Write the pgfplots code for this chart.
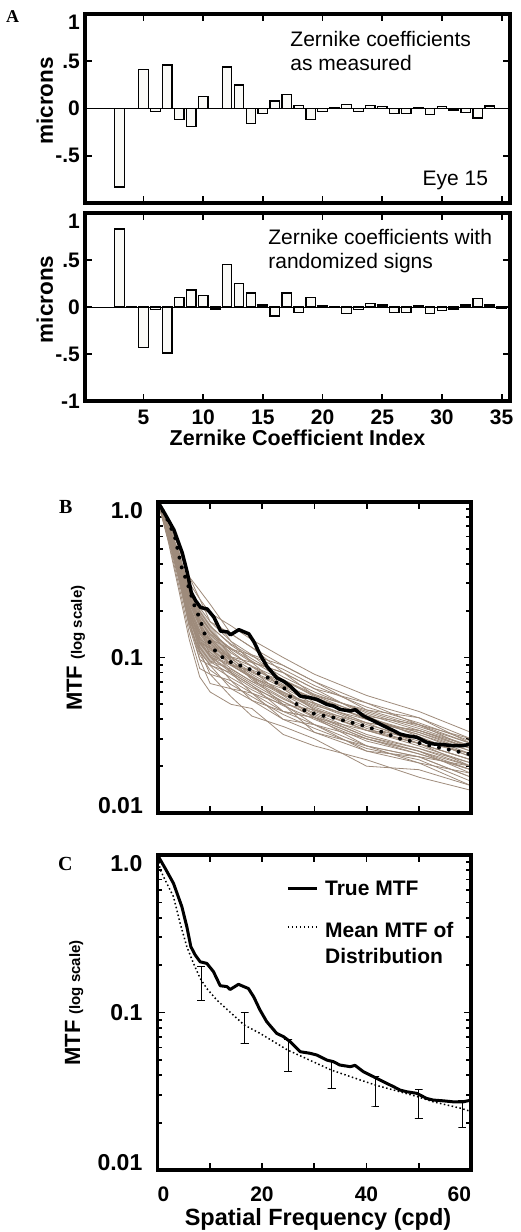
\documentclass[border=0pt]{standalone}
\usepackage{fontspec}
\setmainfont{Liberation Sans}
\newfontfamily\tnr{Liberation Serif}
\usepackage{pgfplots}
\pgfplotsset{compat=1.18}
\definecolor{brn}{RGB}{158,139,123}
\definecolor{barfill}{RGB}{250,250,247}
\newcommand{\fs}[1]{\fontsize{#1}{#1}\selectfont}
\pgfplotsset{
  myframe/.style={
    scale only axis,
    clip=false,
    axis line style={line width=3.6pt, line cap=rect},
    tick style={line width=1.8pt, black},
    major tick length=7pt,
    minor tick length=4.5pt,
    tick align=inside,
    /pgf/number format/assume math mode=true,
    tick label style={font=\bfseries\fs{21}},
  },
  barA/.style={
    myframe, width=425pt, xmin=0.1, xmax=35.7, ymin=-1, ymax=1,
    xtick={5,10,...,35}, ytick={-1,-0.5,0,0.5,1},
    yticklabel style={inner sep=0pt, xshift=-5pt},
    xticklabel style={inner sep=0pt, yshift=-9pt},
    every axis y label/.style={at={(axis description cs:-0.0753,0.54)}, rotate=90, anchor=base, inner sep=0pt, font=\bfseries\fs{22.5}},
  },
  sp/.style={brn, line width=0.8pt, line join=round},
  eb/.style={black, line width=0.9pt},
}
\begin{document}
\begin{tikzpicture}[x=1pt,y=1pt]
\useasboundingbox (0,0) rectangle (520,-1232);

% ---------- Panel A top ----------
\begin{axis}[barA, at={(85pt,-14pt)}, anchor=north west, height=189pt,
  xticklabels={}, yticklabels={,-.5,0,.5,\raisebox{-7.5pt}[15pt][0pt]{1}},
  ylabel={microns}]
\addplot[black, line width=0.8pt, forget plot] coordinates {(0.1,0) (35.7,0)};
\addplot[ybar, bar width=0.8, bar shift=0pt, fill=barfill, draw=black, line width=1.3pt] coordinates {
(3,-0.83)(4,0.003)(5,0.41)(6,-0.03)(7,0.46)(8,-0.12)(9,-0.19)(10,0.125)(11,0.003)(12,0.44)
(13,0.25)(14,-0.16)(15,-0.05)(16,0.08)(17,0.15)(18,0.035)(19,-0.12)(20,-0.03)(21,0.005)(22,0.045)
(23,-0.03)(24,0.035)(25,0.02)(26,-0.05)(27,-0.05)(28,0.01)(29,-0.06)(30,0.02)(31,-0.015)(32,-0.04)
(33,-0.10)(34,0.025)(35,0.003)};
\node[anchor=north west, align=left, inner sep=0pt, font=\fontsize{21}{24}\selectfont] at (axis cs:17.29,0.815) {Zernike coefficients\\as measured};
\node[anchor=base east, inner sep=0pt, font=\fs{21}] at (axis cs:33.87,-0.815) {Eye 15};
\end{axis}

% ---------- Panel A bottom ----------
\begin{axis}[barA, at={(85pt,-213pt)}, anchor=north west, height=188pt,
  yticklabels={-1,-.5,0,.5,\raisebox{-7.5pt}[15pt][0pt]{1}},
  ylabel={microns}, xlabel={Zernike Coefficient Index},
  every axis x label/.style={at={(axis description cs:0.5,-0.235)}, anchor=base, inner sep=0pt, font=\bfseries\fs{21.5}}]
\addplot[black, line width=0.8pt, forget plot] coordinates {(0.1,0) (35.7,0)};
\addplot[ybar, bar width=0.8, bar shift=0pt, fill=barfill, draw=black, line width=1.3pt] coordinates {
(3,0.83)(4,-0.003)(5,-0.43)(6,-0.03)(7,-0.49)(8,0.10)(9,0.18)(10,0.125)(11,-0.02)(12,0.45)
(13,0.25)(14,0.15)(15,0.02)(16,-0.095)(17,0.15)(18,-0.055)(19,0.10)(20,0.01)(21,-0.005)(22,-0.07)
(23,-0.03)(24,0.035)(25,0.02)(26,-0.055)(27,-0.055)(28,0.01)(29,-0.07)(30,-0.04)(31,-0.02)(32,0.02)
(33,0.09)(34,0.02)(35,-0.01)};
\node[anchor=north west, align=left, inner sep=0pt, font=\fontsize{21}{24}\selectfont] at (axis cs:15.44,0.827) {Zernike coefficients with\\randomized signs};
\end{axis}

% ---------- Panel B ----------
\begin{axis}[myframe, ymode=log, xmin=0, xmax=60, ymin=0.01, ymax=1,
  xtick={0,10,...,60}, ytick={0.01,0.1,1},
  minor ytick={0.02,0.03,0.04,0.05,0.06,0.07,0.08,0.09,0.2,0.3,0.4,0.5,0.6,0.7,0.8,0.9},
  yticklabels={\raisebox{8pt}[16.5pt][0pt]{0.01}, 0.1, \raisebox{-8pt}[16.5pt][0pt]{1.0}},
  yticklabel style={inner sep=0pt, xshift=-15pt, font=\bfseries\fs{23}},
  at={(158pt,-502pt)}, anchor=north west, width=313pt, height=311pt,
  xticklabels={},
  ylabel={{\fs{22}MTF}\hspace{6pt}{\fs{15}(log scale)}},
  every axis y label/.style={at={(axis description cs:-0.243,0.53)}, rotate=90, anchor=base, inner sep=0pt, font=\bfseries}]
% dense core of the distribution
\addplot[fill=brn, fill opacity=0.55, draw=none] coordinates {(0,1)(2,0.71)(4,0.48)(6,0.275)(8,0.205)(10,0.165)(12,0.13)(14,0.105)(14,0.095)(12,0.10)(10,0.09)(8,0.108)(6,0.168)(4,0.33)(2,0.60)(0,1)} -- cycle;
\addplot[sp] coordinates {(0,1)(2,0.55)(4,0.27)(6,0.130)(8,0.075)(10,0.060)(14,0.050)(18,0.047)(24,0.032)(30,0.027)(40,0.022)(50,0.017)(60,0.014)};
\addplot[sp] coordinates {(0,1)(2,0.567)(4,0.290)(6,0.143)(8,0.085)(10,0.078)(14,0.056)(18,0.042)(24,0.036)(30,0.030)(40,0.020)(50,0.019)(60,0.015)};
\addplot[sp] coordinates {(0,1)(2,0.585)(4,0.311)(6,0.157)(8,0.110)(10,0.078)(14,0.071)(18,0.053)(24,0.040)(30,0.037)(40,0.025)(50,0.021)(60,0.015)};
\addplot[sp] coordinates {(0,1)(2,0.604)(4,0.334)(6,0.172)(8,0.097)(10,0.089)(14,0.063)(18,0.059)(24,0.050)(30,0.033)(40,0.027)(50,0.023)(60,0.017)};
\addplot[sp] coordinates {(0,1)(2,0.623)(4,0.359)(6,0.172)(8,0.125)(10,0.101)(14,0.080)(18,0.066)(24,0.045)(30,0.041)(40,0.027)(50,0.021)(60,0.018)};
\addplot[sp] coordinates {(0,1)(2,0.623)(4,0.385)(6,0.189)(8,0.142)(10,0.115)(14,0.089)(18,0.074)(24,0.057)(30,0.041)(40,0.030)(50,0.025)(60,0.020)};
\addplot[sp] coordinates {(0,1)(2,0.642)(4,0.359)(6,0.207)(8,0.125)(10,0.115)(14,0.101)(18,0.074)(24,0.063)(30,0.046)(40,0.034)(50,0.028)(60,0.020)};
\addplot[sp] coordinates {(0,1)(2,0.642)(4,0.385)(6,0.227)(8,0.162)(10,0.131)(14,0.089)(18,0.083)(24,0.057)(30,0.051)(40,0.038)(50,0.028)(60,0.022)};
\addplot[sp] coordinates {(0,1)(2,0.663)(4,0.414)(6,0.207)(8,0.142)(10,0.131)(14,0.113)(18,0.093)(24,0.063)(30,0.046)(40,0.034)(50,0.031)(60,0.023)};
\addplot[sp] coordinates {(0,1)(2,0.663)(4,0.444)(6,0.227)(8,0.184)(10,0.149)(14,0.101)(18,0.083)(24,0.071)(30,0.057)(40,0.042)(50,0.031)(60,0.023)};
\addplot[sp] coordinates {(0,1)(2,0.684)(4,0.414)(6,0.250)(8,0.162)(10,0.115)(14,0.080)(18,0.066)(24,0.050)(30,0.046)(40,0.038)(50,0.034)(60,0.026)};
\addplot[sp] coordinates {(0,1)(2,0.684)(4,0.444)(6,0.250)(8,0.184)(10,0.149)(14,0.113)(18,0.104)(24,0.071)(30,0.051)(40,0.038)(50,0.034)(60,0.026)};
\addplot[sp] coordinates {(0,1)(2,0.705)(4,0.477)(6,0.274)(8,0.209)(10,0.170)(14,0.127)(18,0.093)(24,0.080)(30,0.063)(40,0.042)(50,0.037)(60,0.028)};
\addplot[sp] coordinates {(0,1)(2,0.705)(4,0.477)(6,0.250)(8,0.209)(10,0.193)(14,0.127)(18,0.104)(24,0.089)(30,0.070)(40,0.046)(50,0.037)(60,0.026)};
\addplot[sp] coordinates {(0,1)(2,0.727)(4,0.512)(6,0.301)(8,0.238)(10,0.170)(14,0.142)(18,0.116)(24,0.080)(30,0.057)(40,0.046)(50,0.041)(60,0.030)};
\addplot[sp] coordinates {(0,1)(2,0.75)(4,0.55)(6,0.330)(8,0.270)(10,0.220)(14,0.142)(18,0.116)(24,0.089)(30,0.070)(40,0.051)(50,0.041)(60,0.028)};
\addplot[sp] coordinates {(0,1)(2,0.727)(4,0.512)(6,0.330)(8,0.238)(10,0.193)(14,0.160)(18,0.130)(24,0.100)(30,0.078)(40,0.057)(50,0.045)(60,0.033)};
\addplot[sp] coordinates {(0,1)(2,0.604)(4,0.359)(6,0.189)(8,0.110)(10,0.089)(14,0.080)(18,0.059)(24,0.045)(30,0.037)(40,0.030)(50,0.025)(60,0.018)};
\addplot[sp] coordinates {(0,1)(2,0.585)(4,0.334)(6,0.157)(8,0.097)(10,0.068)(14,0.063)(18,0.053)(24,0.045)(30,0.041)(40,0.034)(50,0.028)(60,0.022)};
\addplot[sp] coordinates {(0,1)(2,0.663)(4,0.414)(6,0.227)(8,0.162)(10,0.101)(14,0.071)(18,0.059)(24,0.040)(30,0.033)(40,0.025)(50,0.023)(60,0.020)};
\addplot[sp] coordinates {(0,1)(2,0.642)(4,0.385)(6,0.207)(8,0.142)(10,0.131)(14,0.101)(18,0.093)(24,0.080)(30,0.063)(40,0.051)(50,0.037)(60,0.030)};
\addplot[sp] coordinates {(0,1)(2,0.623)(4,0.334)(6,0.189)(8,0.125)(10,0.101)(14,0.089)(18,0.074)(24,0.050)(30,0.037)(40,0.027)(50,0.023)(60,0.017)};
\addplot[sp] coordinates {(0,1)(2,0.650)(4,0.400)(6,0.215)(8,0.150)(10,0.122)(14,0.095)(18,0.078)(24,0.060)(30,0.048)(40,0.036)(50,0.029)(60,0.024)};
\addplot[sp] coordinates {(0,1)(2,0.615)(4,0.370)(6,0.198)(8,0.133)(10,0.108)(14,0.085)(18,0.070)(24,0.054)(30,0.044)(40,0.032)(50,0.026)(60,0.021)};
\addplot[sp] coordinates {(0,1)(2,0.673)(4,0.430)(6,0.238)(8,0.172)(10,0.140)(14,0.107)(18,0.088)(24,0.067)(30,0.054)(40,0.040)(50,0.033)(60,0.025)};
\addplot[sp] coordinates {(0,1)(2,0.633)(4,0.372)(6,0.180)(8,0.118)(10,0.095)(14,0.084)(18,0.070)(24,0.060)(30,0.049)(40,0.040)(50,0.032)(60,0.025)};
\addplot[sp] coordinates {(0,1)(2,0.694)(4,0.460)(6,0.262)(8,0.196)(10,0.160)(14,0.120)(18,0.098)(24,0.075)(30,0.060)(40,0.044)(50,0.035)(60,0.027)};
\addplot[sp] coordinates {(0,1)(2,0.595)(4,0.322)(6,0.165)(8,0.104)(10,0.083)(14,0.067)(18,0.056)(24,0.043)(30,0.035)(40,0.026)(50,0.022)(60,0.016)};
\addplot[sp] coordinates {(0,1)(2,0.640)(4,0.395)(6,0.200)(8,0.136)(10,0.112)(14,0.092)(18,0.076)(24,0.058)(30,0.045)(40,0.034)(50,0.027)(60,0.021)};
\addplot[sp] coordinates {(0,1)(2,0.657)(4,0.420)(6,0.232)(8,0.168)(10,0.128)(14,0.098)(18,0.080)(24,0.064)(30,0.050)(40,0.037)(50,0.030)(60,0.024)};
\addplot[sp] coordinates {(0,1)(2,0.630)(4,0.365)(6,0.185)(8,0.122)(10,0.104)(14,0.090)(18,0.081)(24,0.066)(30,0.055)(40,0.043)(50,0.034)(60,0.027)};
\addplot[sp] coordinates {(0,1)(2,0.668)(4,0.425)(6,0.245)(8,0.178)(10,0.135)(14,0.096)(18,0.072)(24,0.055)(30,0.043)(40,0.031)(50,0.025)(60,0.019)};
\addplot[sp] coordinates {(0,1)(2,0.610)(4,0.350)(6,0.178)(8,0.115)(10,0.094)(14,0.078)(18,0.064)(24,0.052)(30,0.042)(40,0.031)(50,0.026)(60,0.020)};
\addplot[sp] coordinates {(0,1)(2,0.688)(4,0.452)(6,0.256)(8,0.190)(10,0.150)(14,0.110)(18,0.087)(24,0.065)(30,0.053)(40,0.041)(50,0.033)(60,0.026)};
\addplot[sp] coordinates {(0,1)(2,0.645)(4,0.392)(6,0.212)(8,0.146)(10,0.118)(14,0.100)(18,0.088)(24,0.072)(30,0.058)(40,0.045)(50,0.036)(60,0.028)};
\addplot[sp] coordinates {(0,1)(2,0.600)(4,0.328)(6,0.168)(8,0.108)(10,0.090)(14,0.074)(18,0.062)(24,0.049)(30,0.040)(40,0.029)(50,0.024)(60,0.019)};
\addplot[sp] coordinates {(0,1)(2,0.676)(4,0.438)(6,0.240)(8,0.175)(10,0.142)(14,0.115)(18,0.095)(24,0.072)(30,0.056)(40,0.040)(50,0.032)(60,0.024)};
\addplot[sp] coordinates {(0,1)(2,0.655)(4,0.405)(6,0.222)(8,0.158)(10,0.125)(14,0.090)(18,0.075)(24,0.059)(30,0.047)(40,0.035)(50,0.028)(60,0.022)};
\addplot[sp] coordinates {(0,1)(2,0.700)(4,0.470)(6,0.280)(8,0.200)(10,0.158)(14,0.122)(18,0.102)(24,0.084)(30,0.066)(40,0.048)(50,0.038)(60,0.029)};
\addplot[sp] coordinates {(0,1)(2,0.620)(4,0.362)(6,0.194)(8,0.130)(10,0.102)(14,0.082)(18,0.068)(24,0.052)(30,0.041)(40,0.030)(50,0.024)(60,0.019)};
% true MTF
\addplot[black, line width=3.5pt, line join=round] coordinates {(0,1.0)(1.5,0.82)(3.06,0.661)(4.66,0.47)(5.61,0.351)(6.38,0.262)(7.21,0.232)(8.16,0.21)(9.44,0.205)(10.7,0.182)(12.0,0.148)(13.3,0.146)(13.9,0.14)(15.5,0.151)(17.4,0.142)(18.4,0.126)(19.6,0.104)(20.9,0.0875)(22.8,0.0738)(24.1,0.0703)(25.4,0.0653)(27.3,0.0564)(29.2,0.0551)(30.5,0.0537)(32.4,0.0499)(33.7,0.0487)(34.9,0.0464)(36.9,0.0453)(37.8,0.0462)(39.4,0.0421)(41.3,0.0392)(43.2,0.0364)(45.2,0.0338)(46.4,0.0322)(47.7,0.0314)(49.6,0.0307)(51.5,0.0285)(52.8,0.0278)(54.7,0.0275)(56.6,0.0271)(58.5,0.0271)(60,0.0278)};
% mean (dots)
\addplot[black, line width=4pt, dash pattern=on 0pt off 10pt, line cap=round] coordinates {(0,1.0)(2,0.75)(3.3,0.586)(4.5,0.384)(5.8,0.29)(7,0.215)(8,0.178)(9,0.14)(11,0.11)(13,0.096)(15.7,0.089)(18,0.083)(20.8,0.075)(24,0.065)(26,0.052)(27.9,0.046)(30.4,0.043)(33.7,0.041)(36,0.039)(40,0.036)(46.5,0.030)(52.9,0.0268)(60,0.0238)};
\end{axis}

% ---------- Panel C ----------
\begin{axis}[myframe, ymode=log, xmin=0, xmax=60, ymin=0.01, ymax=1,
  xtick={0,10,...,60}, ytick={0.01,0.1,1},
  minor ytick={0.02,0.03,0.04,0.05,0.06,0.07,0.08,0.09,0.2,0.3,0.4,0.5,0.6,0.7,0.8,0.9},
  yticklabels={\raisebox{8pt}[16.5pt][0pt]{0.01}, 0.1, \raisebox{-8pt}[16.5pt][0pt]{1.0}},
  yticklabel style={inner sep=0pt, xshift=-15pt, font=\bfseries\fs{23}},
  xticklabel style={inner sep=0pt, yshift=-17pt},
  at={(157.5pt,-855pt)}, anchor=north west, width=313.5pt, height=315pt,
  xticklabels={\makebox[0pt][l]{0},,20,,40,,\makebox[0pt][r]{60}},
  ylabel={{\fs{22}MTF}\hspace{6pt}{\fs{15}(log scale)}},
  every axis y label/.style={at={(axis description cs:-0.247,0.53)}, rotate=90, anchor=base, inner sep=0pt, font=\bfseries},
  xlabel={Spatial Frequency (cpd)},
  every axis x label/.style={at={(axis description cs:0.512,-0.175)}, anchor=base, inner sep=0pt, font=\bfseries\fs{23.5}}]
\addplot[black, line width=1.5pt, dash pattern=on 1.5pt off 2.5pt] coordinates {(0,0.95)(0.6,0.80)(1.15,0.728)(3.06,0.544)(4.34,0.368)(5.61,0.262)(6.89,0.205)(8.16,0.165)(9.44,0.142)(11.35,0.120)(14.5,0.0964)(16.6,0.0833)(19.6,0.0738)(24.9,0.0578)(30.5,0.0475)(33.2,0.0432)(36.9,0.0392)(41.6,0.0347)(46.4,0.0314)(49.8,0.0292)(52.8,0.0271)(58.2,0.0246)(60,0.0235)};
\addplot[black, line width=3pt, line join=round] coordinates {(0,1.0)(1.5,0.82)(3.06,0.661)(4.66,0.47)(5.61,0.351)(6.38,0.262)(7.21,0.232)(8.16,0.21)(9.44,0.205)(10.7,0.182)(12.0,0.148)(13.3,0.146)(13.9,0.14)(15.5,0.151)(17.4,0.142)(18.4,0.126)(19.6,0.104)(20.9,0.0875)(22.8,0.0738)(24.1,0.0703)(25.4,0.0653)(27.3,0.0564)(29.2,0.0551)(30.5,0.0537)(32.4,0.0499)(33.7,0.0487)(34.9,0.0464)(36.9,0.0453)(37.8,0.0462)(39.4,0.0421)(41.3,0.0392)(43.2,0.0364)(45.2,0.0338)(46.4,0.0322)(47.7,0.0314)(49.6,0.0307)(51.5,0.0285)(52.8,0.0278)(54.7,0.0275)(56.6,0.0271)(58.5,0.0271)(60,0.0278)};
% error bars (top cap, stem, bottom cap)
\addplot[eb] coordinates {(7.58,0.196)(9.08,0.196)(8.33,0.196)(8.33,0.120)(7.58,0.120)(9.08,0.120)};
\addplot[eb] coordinates {(15.92,0.100)(17.42,0.100)(16.67,0.100)(16.67,0.064)(15.92,0.064)(17.42,0.064)};
\addplot[eb] coordinates {(24.25,0.0676)(25.75,0.0676)(25.0,0.0676)(25.0,0.0421)(24.25,0.0421)(25.75,0.0421)};
\addplot[eb] coordinates {(32.58,0.0487)(34.08,0.0487)(33.33,0.0487)(33.33,0.0330)(32.58,0.0330)(34.08,0.0330)};
\addplot[eb] coordinates {(40.92,0.0395)(42.42,0.0395)(41.67,0.0395)(41.67,0.0255)(40.92,0.0255)(42.42,0.0255)};
\addplot[eb] coordinates {(49.25,0.0325)(50.75,0.0325)(50.0,0.0325)(50.0,0.0213)(49.25,0.0213)(50.75,0.0213)};
\addplot[eb] coordinates {(57.58,0.0278)(59.08,0.0278)(58.33,0.0278)(58.33,0.0186)(57.58,0.0186)(59.08,0.0186)};
\draw[black, line width=3pt] (rel axis cs:0.416,0.895) -- (rel axis cs:0.509,0.895);
\draw[black, line width=1.5pt, dash pattern=on 1.5pt off 2.5pt] (rel axis cs:0.416,0.771) -- (rel axis cs:0.509,0.771);
\node[anchor=west, inner sep=0pt, font=\bfseries\fs{21}] at (rel axis cs:0.534,0.895) {True MTF};
\node[anchor=north west, inner sep=0pt, align=left, font=\bfseries\fontsize{21}{26}\selectfont] at (rel axis cs:0.534,0.787) {Mean MTF of\\Distribution};
\end{axis}

% thick panel frames
\draw[line width=3.6pt, line cap=rect] (85,-14) rectangle (510,-203);
\draw[line width=3.6pt, line cap=rect] (85,-213) rectangle (510,-401);
\draw[line width=3.6pt, line cap=rect] (158,-502) rectangle (471,-813);
\draw[line width=3.6pt, line cap=rect] (157.5,-855) rectangle (471,-1170);

\node[anchor=base west, inner sep=0pt, font=\tnr\bfseries\fs{18}] at (6,-22) {A};
\node[anchor=base west, inner sep=0pt, font=\tnr\bfseries\fs{20}] at (59,-513) {B};
\node[anchor=base west, inner sep=0pt, font=\tnr\bfseries\fs{20}] at (58,-870) {C};
\end{tikzpicture}
\end{document}
